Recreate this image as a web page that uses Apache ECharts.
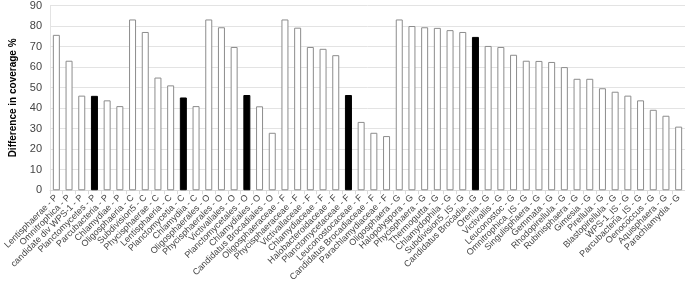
<!DOCTYPE html>
<html lang="en">
  <head>
    <meta charset="UTF-8" />
    <title>Difference in coverage</title>
    <script src="https://cdn.jsdelivr.net/npm/echarts@6/dist/echarts.min.js"></script>
    <style>
      html, body { margin: 0; padding: 0; background: #fff; }
      .box { width: 685px; height: 284px; }
    </style>
  </head>
  <body>
    <div class="box"></div>
    <script>
      // categories (taxon - rank)
      var categories = [
        "Lentisphaerae - P", "Omnitrophica - P", "candidate div WPS-1 - P", "Planctomycetes - P",
        "Parcubacteria - P", "Chlamydiae - P", "Oligosphaeria - C", "Subdivision5 - C",
        "Phycisphaerae - C", "Lentisphaeria - C", "Planctomycetia - C", "Chlamydiia - C",
        "Oligosphaerales - O", "Phycisphaerales - O", "Victivallales - O", "Planctomycetales - O",
        "Chlamydiales - O", "Candidatus Brocadiales - O", "Oligosphaeraceae - F", "Phycisphaeraceae - F",
        "Victivallaceae - F", "Chlamydiaceae - F", "Halobacteroidaceae - F", "Planctomycetaceae - F",
        "Leuconostocaceae - F", "Candidatus Brocadiaceae - F", "Parachlamydiaceae - F", "Oligosphaera - G",
        "Halopolyspora - G", "Phycisphaera - G", "Thermogutta - G", "Chlamydophila - G",
        "Subdivision5_IS - G", "Candidatus Brocadia - G", "Orenia - G", "Victivallis - G",
        "Leuconostoc - G", "Omnitrophica_IS - G", "Singulisphaera - G", "Gemmata - G",
        "Rhodopirellula - G", "Rubinisphaera - G", "Gimesia - G", "Pirellula - G",
        "Blastopirellula - G", "WPS-1_IS - G", "Parcubacteria_IS - G", "Oenococcus - G",
        "Aquisphaera - G", "Parachlamydia - G"
      ];
      // difference in coverage %
      var values = [
        75.7, 63.1, 46.1, 46.0, 43.8, 41.0, 83.2, 77.1, 54.9, 51.1, 45.2, 41.0,
        83.2, 79.4, 69.8, 46.4, 40.9, 28.0, 83.2, 79.2, 69.8, 68.9, 65.8, 46.4,
        33.3, 28.0, 26.4, 83.2, 80.0, 79.4, 79.1, 78.0, 77.1, 74.7, 70.3, 69.8,
        66.0, 63.1, 63.0, 62.5, 60.0, 54.3, 54.3, 49.7, 48.0, 46.1, 43.8, 39.2,
        36.3, 31.0
      ];
      // bars drawn filled in black
      var highlighted = [
        "Planctomycetes - P", "Planctomycetia - C", "Planctomycetales - O",
        "Planctomycetaceae - F", "Candidatus Brocadia - G"
      ];

      var seriesData = [];
      for (var i = 0; i < values.length; i++) {
        var black = highlighted.indexOf(categories[i]) >= 0;
        seriesData.push({
          value: values[i],
          itemStyle: black
            ? { color: "#000", borderColor: "#000", borderWidth: 1 }
            : { color: "#fff", borderColor: "#8c8c8c", borderWidth: 1 }
        });
      }

      var chart = echarts.init(document.getElementsByClassName("box")[0]);
      chart.setOption({
        animation: false,
        grid: { left: 41, right: 0, top: 3, bottom: 84, containLabel: false },
        xAxis: {
          type: "category",
          data: categories,
          axisLine: { lineStyle: { color: "#d9d9d9" } },
          axisTick: { show: true, length: 4, lineStyle: { color: "#d9d9d9" } },
          axisLabel: {
            interval: 0,
            rotate: 45,
            fontSize: 9,
            color: "#444",
            fontFamily: "Liberation Sans",
            margin: 6
          }
        },
        yAxis: {
          type: "value",
          min: 0,
          max: 90,
          interval: 10,
          name: "Difference in coverage %",
          nameLocation: "middle",
          nameGap: 32,
          nameTextStyle: { fontSize: 10, fontWeight: "bold", color: "#000", fontFamily: "Liberation Sans" },
          axisLine: { show: true, lineStyle: { color: "#e3e3e3" } },
          axisTick: { show: false },
          splitLine: { lineStyle: { color: "#e3e3e3" } },
          axisLabel: { fontSize: 11, color: "#444", fontFamily: "Liberation Sans", margin: 8 }
        },
        series: [
          {
            type: "bar",
            data: seriesData,
            barWidth: 7
          }
        ]
      });
    </script>
  </body>
</html>
